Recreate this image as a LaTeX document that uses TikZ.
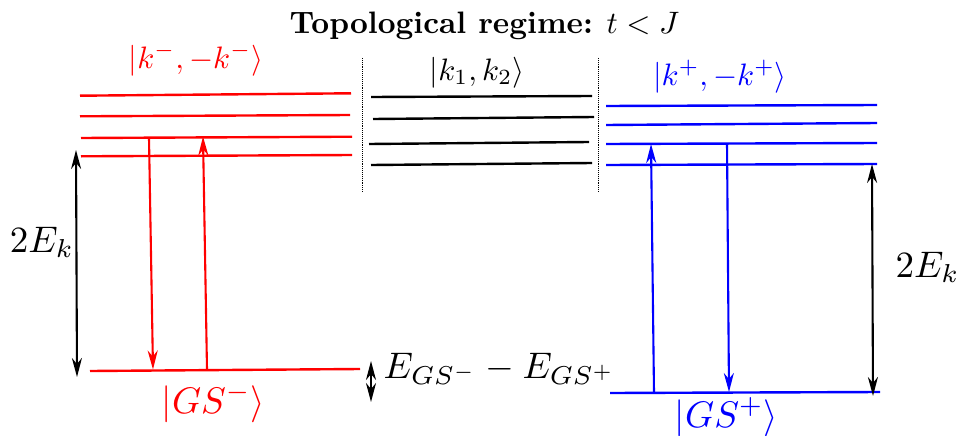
\documentclass[tikz,border=0pt]{standalone}
\usetikzlibrary{arrows.meta}
\tikzset{
  lvl/.style={line width=2.4pt},
  trans/.style={line width=2.1pt,-{Stealth[length=19pt,width=10pt,inset=6pt]}},
  gap/.style={line width=2.1pt,{Stealth[length=19pt,width=10pt,inset=6pt]}-{Stealth[length=19pt,width=10pt,inset=6pt]}},
  sep/.style={line width=0.9pt,densely dotted},
  lab/.style={anchor=base,inner sep=0pt},
  fsA/.style={scale=3.1},
  fsB/.style={scale=3.7},
}
\begin{document}
\begin{tikzpicture}[x=1pt,y=-1pt]
\useasboundingbox (0,0) rectangle (963,436);
% title
\node[lab,fsA] (title) at (484.5,34) {\textbf{Topological regime:} $t<J$};
% separators
\coordinate (s1t) at (362,58); \coordinate (s1b) at (362,192);
\coordinate (s2t) at (598,58); \coordinate (s2b) at (598,192);
\draw[sep] (s1t) -- (s1b);
\draw[sep] (s2t) -- (s2b);
% red levels
\begin{scope}[red]
\draw[lvl] (80,95.7) -- (351,93.3);
\draw[lvl] (80,116.3) -- (350,115);
\draw[lvl] (81,138) -- (352,136.7);
\draw[lvl] (81,156.3) -- (352,155);
\draw[lvl] (90,371) -- (360,369);
\coordinate (rd1) at (149,138); \coordinate (rd2) at (153,369.5);
\coordinate (ru1) at (207,369.5); \coordinate (ru2) at (203,136.5);
\draw[trans] (rd1) -- (rd2);
\draw[trans] (ru1) -- (ru2);
\node[lab,fsA] (kminus) at (196,68) {$|k^-,-k^-\rangle$};
\node[lab,fsB] (gsminus) at (213.5,413) {$|GS^-\rangle$};
\end{scope}
% black middle levels
\draw[lvl] (371,97) -- (592,96);
\draw[lvl] (373,119) -- (594,117);
\draw[lvl] (369,144) -- (589,142);
\draw[lvl] (371,165) -- (592,163);
\node[lab,fsA] (k12) at (477,80) {$|k_1,k_2\rangle$};
% blue levels
\begin{scope}[blue]
\draw[lvl] (606,106) -- (877,105);
\draw[lvl] (606,125) -- (877,123);
\draw[lvl] (606,144) -- (877,143);
\draw[lvl] (606,165) -- (877,164);
\draw[lvl] (610,393) -- (880,392);
\coordinate (bu1) at (654,392.5); \coordinate (bu2) at (651,144);
\coordinate (bd1) at (727,143.5); \coordinate (bd2) at (729,392);
\draw[trans] (bu1) -- (bu2);
\draw[trans] (bd1) -- (bd2);
\node[lab,fsA] (kplus) at (720,85) {$|k^+,-k^+\rangle$};
\node[lab,fsB] (gsplus) at (726.5,427) {$|GS^+\rangle$};
\end{scope}
% energy gaps
\coordinate (g1t) at (76,150); \coordinate (g1b) at (77,377);
\draw[gap] (g1t) -- (g1b);
\node[lab,fsB] (ek1) at (42,252) {$2E_k$};
\coordinate (g2t) at (872,164); \coordinate (g2b) at (873,396);
\draw[gap] (g2t) -- (g2b);
\node[lab,fsB] (ek2) at (927.5,277) {$2E_k$};
\coordinate (g3t) at (371,361); \coordinate (g3b) at (371,402);
\draw[gap] (g3t) -- (g3b);
\node[lab,fsB,anchor=base west] (egs) at (383,378) {$E_{GS^-}-E_{GS^+}$};
\end{tikzpicture}
\end{document}
